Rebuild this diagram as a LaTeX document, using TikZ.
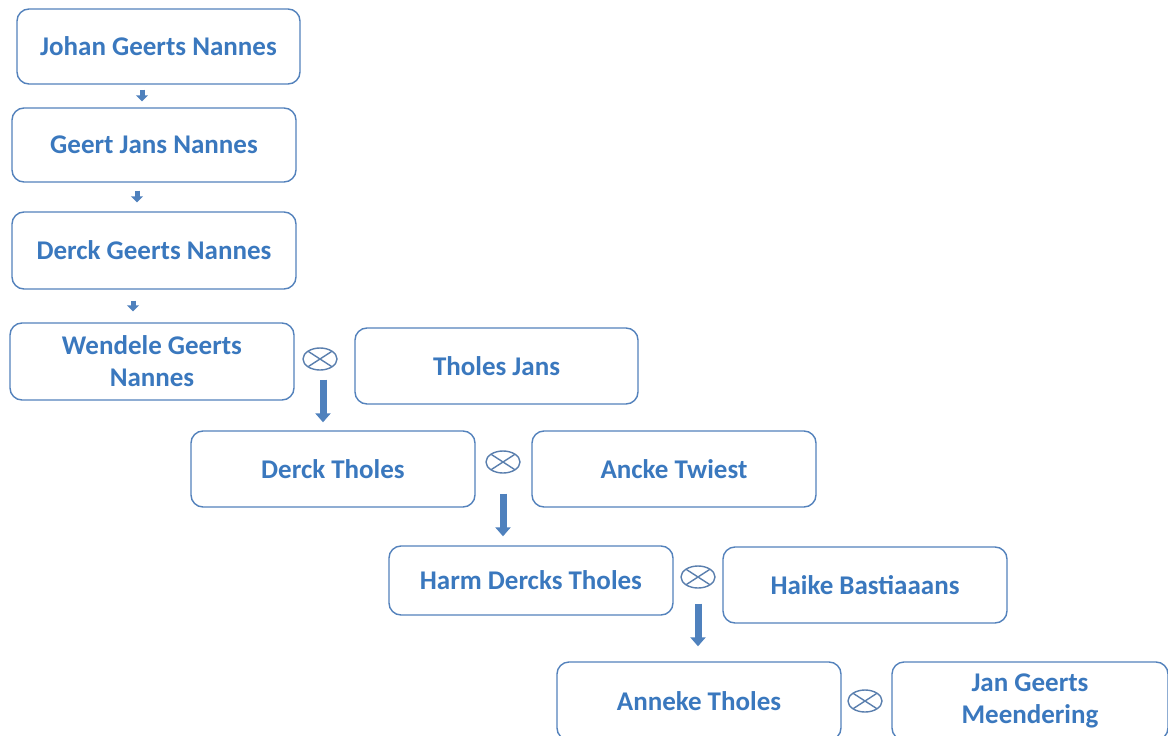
\documentclass[tikz,border=0pt]{standalone}
\usepackage{fontspec}
\setmainfont{Carlito}
\usetikzlibrary{shapes.geometric,arrows.meta,calc}
\definecolor{txtblue}{HTML}{3A78BE}
\definecolor{edgeblue}{HTML}{5482BC}
\definecolor{arrblue}{HTML}{4F81BD}
\definecolor{ringblue}{HTML}{5A7FAE}
\tikzset{
  person/.style={draw=edgeblue, line width=1.4pt, rounded corners=12pt, fill=white,
    minimum width=284pt, minimum height=76pt, inner sep=0pt, align=center,
    text=txtblue, font=\fontsize{27}{32}\selectfont\bfseries},
  marriage/.style={ellipse, draw=ringblue, line width=1.4pt, minimum width=34pt, minimum height=22pt, inner sep=0pt,
    path picture={\draw[ringblue, line width=1.4pt]
      (path picture bounding box.north west) -- (path picture bounding box.south east)
      (path picture bounding box.north east) -- (path picture bounding box.south west);}},
  smallarrow/.style={draw=arrblue, line width=5pt, -{Triangle[width=12pt,length=6pt]}},
  bigarrow/.style={draw=arrblue, line width=7pt, -{Triangle[width=15pt,length=9pt]}}
}
\begin{document}
\begin{tikzpicture}[x=1pt,y=-1pt]
\clip (0,0) rectangle (1168,736);
\fill[white] (0,0) rectangle (1168,736);
\node[person, minimum width=283pt, minimum height=75pt] (b1) at (158.5,46.5) {Johan Geerts Nannes};
\node[person, minimum height=74pt] (b2) at (154,145) {Geert Jans Nannes};
\node[person, minimum height=77pt] (b3) at (154,250.5) {Derck Geerts Nannes};
\node[person, minimum height=77pt] (b4) at (152,361.5) {Wendele Geerts\\Nannes};
\node[person, minimum width=283pt] (b5) at (496.5,366) {Tholes Jans};
\node[person] (b6) at (333,469) {Derck Tholes};
\node[person] (b7) at (674,469) {Ancke Twiest};
\node[person, minimum height=69pt] (b8) at (531,580.5) {Harm Dercks Tholes};
\node[person] (b9) at (865,585) {Haike Bastiaaans};
\node[person, minimum height=78pt] (b10) at (699,701) {Anneke Tholes};
\node[person, minimum width=276pt, minimum height=78pt] (b11) at (1030,701) {Jan Geerts\\Meendering};
\node[marriage] (m1) at (320,359) {};
\node[marriage] (m2) at (503,462) {};
\node[marriage] (m3) at (698,577) {};
\node[marriage] (m4) at (865,701) {};
\draw[smallarrow] ($(142,0 |- b1.south)+(0,5)$) -- ($(142,0 |- b2.north)+(0,-6)$);
\draw[smallarrow] ($(137,0 |- b2.south)+(0,8)$) -- ($(137,0 |- b3.north)+(0,-9)$);
\draw[smallarrow] ($(133,0 |- b3.south)+(0,11)$) -- ($(133,0 |- b4.north)+(0,-11)$);
\draw[bigarrow] ($(323,0 |- m1.south)+(0,9)$) -- ($(323,0 |- b6.north)+(0,-8)$);
\draw[bigarrow] ($(503,0 |- m2.south)+(0,20)$) -- ($(503,0 |- b8.north)+(0,-9)$);
\draw[bigarrow] ($(698,0 |- m3.south)+(0,15)$) -- ($(698,0 |- b10.north)+(0,-15)$);
\end{tikzpicture}
\end{document}
